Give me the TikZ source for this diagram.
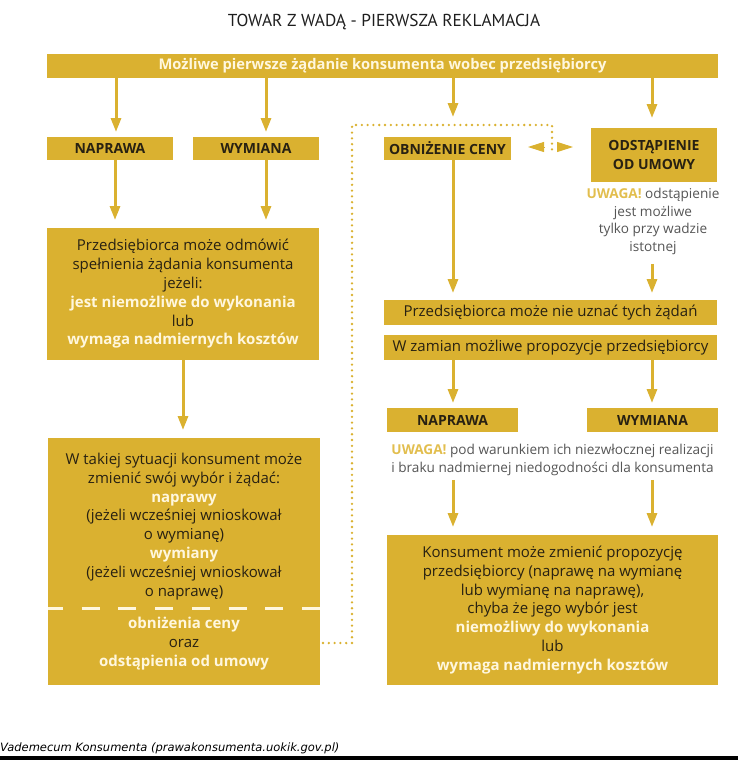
\documentclass[tikz,border=0pt]{standalone}
\usepackage{fontspec}
\setmainfont{Open Sans}
\newfontfamily\tytulfont{PT Sans}
\newfontfamily\stopkafont{DejaVu Sans}
\usetikzlibrary{arrows.meta,positioning}
\definecolor{zloty}{RGB}{218,177,48}
\definecolor{ciemny}{RGB}{40,33,18}
\definecolor{kremowy}{RGB}{255,247,222}
\definecolor{szary}{RGB}{85,85,85}
\definecolor{uwagakolor}{RGB}{226,190,78}
\definecolor{tytulkolor}{RGB}{30,30,30}
\newcommand{\jasny}[1]{{\color{kremowy}\bfseries #1}}
\newcommand{\ostrzezenie}{{\color{uwagakolor}\bfseries UWAGA!}}
\tikzset{
  pole/.style={
    shape = rectangle,
    fill = zloty,
    inner sep = 0pt,
    outer sep = 0pt,
    align = center,
    text = ciemny,
    font = \fontsize{15}{18.8}\selectfont
  },
  naglowek/.style={
    pole,
    font = \fontsize{14}{19}\selectfont\bfseries
  },
  uwaga/.style={
    align = center,
    inner sep = 0pt,
    text = szary,
    font = \fontsize{13.6}{17.5}\selectfont
  },
  strzalka/.style={
    draw = zloty,
    line width = 3pt,
    -{Triangle[length=14pt,width=10pt]}
  },
  grot/.style={
    draw = zloty,
    line width = 1pt,
    -{Triangle[length=16pt,width=10pt]}
  },
  kropki/.style={
    draw = zloty,
    line width = 2.6pt,
    line cap = round,
    dash pattern = on 0pt off 5.8pt
  }
}
\begin{document}
\begin{tikzpicture}[x=1pt, y=-1pt]
    \useasboundingbox (0,0) rectangle (738,760);
    \node[font=\tytulfont\fontsize{17.3}{19}\selectfont, text=tytulkolor] (tytul) at (384,22) {TOWAR Z WADĄ - PIERWSZA REKLAMACJA};
    \node[pole, minimum width=671pt, minimum height=24pt, text=kremowy, font=\fontsize{14.7}{18}\selectfont\bfseries] (zadanie) at (382.5,66) {Możliwe pierwsze żądanie konsumenta wobec przedsiębiorcy};

    % lewa kolumna
    \node[naglowek, minimum width=126pt, minimum height=23pt] (naprawaL) at (110,148.5) {NAPRAWA};
    \node[naglowek, minimum width=126pt, minimum height=23pt] (wymianaL) at (256,148.5) {WYMIANA};
    \node[pole, minimum width=272pt, minimum height=132pt] (odmowa) at (183,294) {Przedsiębiorca może odmówić\\spełnienia żądania konsumenta\\jeżeli:\\\jasny{jest niemożliwe do wykonania}\\lub\\\jasny{wymaga nadmiernych kosztów}};
    \node[pole, minimum width=272pt, minimum height=247pt] (sytuacja) at (184,561.5) {W takiej sytuacji konsument może\\zmienić swój wybór i żądać:\\\jasny{naprawy}\\(jeżeli wcześniej wnioskował\\o wymianę)\\\jasny{wymiany}\\(jeżeli wcześniej wnioskował\\o naprawę)\\[14pt]\jasny{obniżenia ceny}\\oraz\\\jasny{odstąpienia od umowy}};
    \draw[draw=kremowy, line width=3pt, dash pattern=on 18pt off 18.7pt, dash phase=3pt] (sytuacja.west |- 0,608) -- (sytuacja.east |- 0,608);

    % prawa kolumna
    \node[naglowek, minimum width=127pt, minimum height=23pt] (obnizenie) at (447.5,148.5) {OBNIŻENIE CENY};
    \node[naglowek, minimum width=126pt, minimum height=54pt] (odstapienie) at (654,155) {ODSTĄPIENIE\\OD UMOWY};
    \node[uwaga] (uwagaO) at (653,221.5) {\ostrzezenie{} odstąpienie\\jest możliwe\\tylko przy wadzie\\istotnej};
    \node[pole, minimum width=333pt, minimum height=25pt] (nieuznanie) at (550.5,312.5) {Przedsiębiorca może nie uznać tych żądań};
    \node[pole, minimum width=333pt, minimum height=25pt] (zamian) at (550.5,347.5) {W zamian możliwe propozycje przedsiębiorcy};
    \node[naglowek, minimum width=131pt, minimum height=24pt] (naprawaP) at (452.5,420) {NAPRAWA};
    \node[naglowek, minimum width=131pt, minimum height=24pt] (wymianaP) at (652.5,420) {WYMIANA};
    \node[uwaga] (uwagaW) at (552.5,460) {\ostrzezenie{} pod warunkiem ich niezwłocznej realizacji\\i braku nadmiernej niedogodności dla konsumenta};
    \node[pole, minimum width=331pt, minimum height=150pt] (propozycja) at (552.5,610) {Konsument może zmienić propozycję\\przedsiębiorcy (naprawę na wymianę\\lub wymianę na naprawę),\\chyba że jego wybór jest\\\jasny{niemożliwy do wykonania}\\lub\\\jasny{wymaga nadmiernych kosztów}};

    % strzalki
    \foreach \x/\cel/\skrot in {116/naprawaL/5, 266/wymianaL/5, 453/obnizenie/20, 652/odstapienie/10}
      \draw[strzalka, shorten >=\skrot pt] (zadanie.south -| \x,0) -- (\cel.north -| \x,0);
    \draw[strzalka, shorten >=8pt] (naprawaL.south -| 115,0) -- (odmowa.north -| 115,0);
    \draw[strzalka, shorten >=8pt] (wymianaL.south -| 266,0) -- (odmowa.north -| 266,0);
    \draw[strzalka, shorten >=8pt] (odmowa.south -| 183,0) -- (sytuacja.north -| 183,0);
    \draw[strzalka, shorten >=7pt] (obnizenie.south -| 453,0) -- (nieuznanie.north -| 453,0);
    \draw[strzalka, shorten <=9pt, shorten >=7pt] (uwagaO.south -| 652,0) -- (nieuznanie.north -| 652,0);
    \draw[strzalka, shorten >=5pt] (zamian.south -| 453,0) -- (naprawaP.north -| 453,0);
    \draw[strzalka, shorten >=5pt] (zamian.south -| 652,0) -- (wymianaP.north -| 652,0);
    \draw[strzalka, shorten <=4pt, shorten >=8pt] (uwagaW.south -| 453,0) -- (propozycja.north -| 453,0);
    \draw[strzalka, shorten <=4pt, shorten >=8pt] (uwagaW.south -| 652,0) -- (propozycja.north -| 652,0);

    % kropkowana linia
    \coordinate (rogD) at (352,643);
    \coordinate (rogG) at (352,125);
    \coordinate (rogP) at (552,125);
    \coordinate (koniec) at (552,153);
    \draw[kropki, shorten <=3pt] (sytuacja.east |- rogD) -- (rogD) -- (rogG) -- (rogP) -- (koniec);
    \coordinate (srodek) at (551,147);
    \draw[grot] ([xshift=-6pt]srodek) -- ([xshift=-23pt]srodek);
    \draw[grot] ([xshift=6pt]srodek) -- ([xshift=22pt]srodek);

    \node[anchor=base west, inner sep=0pt, font=\stopkafont\itshape\fontsize{11.5}{13}\selectfont] (zrodlo) at (0,751) {Vademecum Konsumenta (prawakonsumenta.uokik.gov.pl)};
    \fill (0,756) rectangle (738,760);
\end{tikzpicture}
\end{document}
